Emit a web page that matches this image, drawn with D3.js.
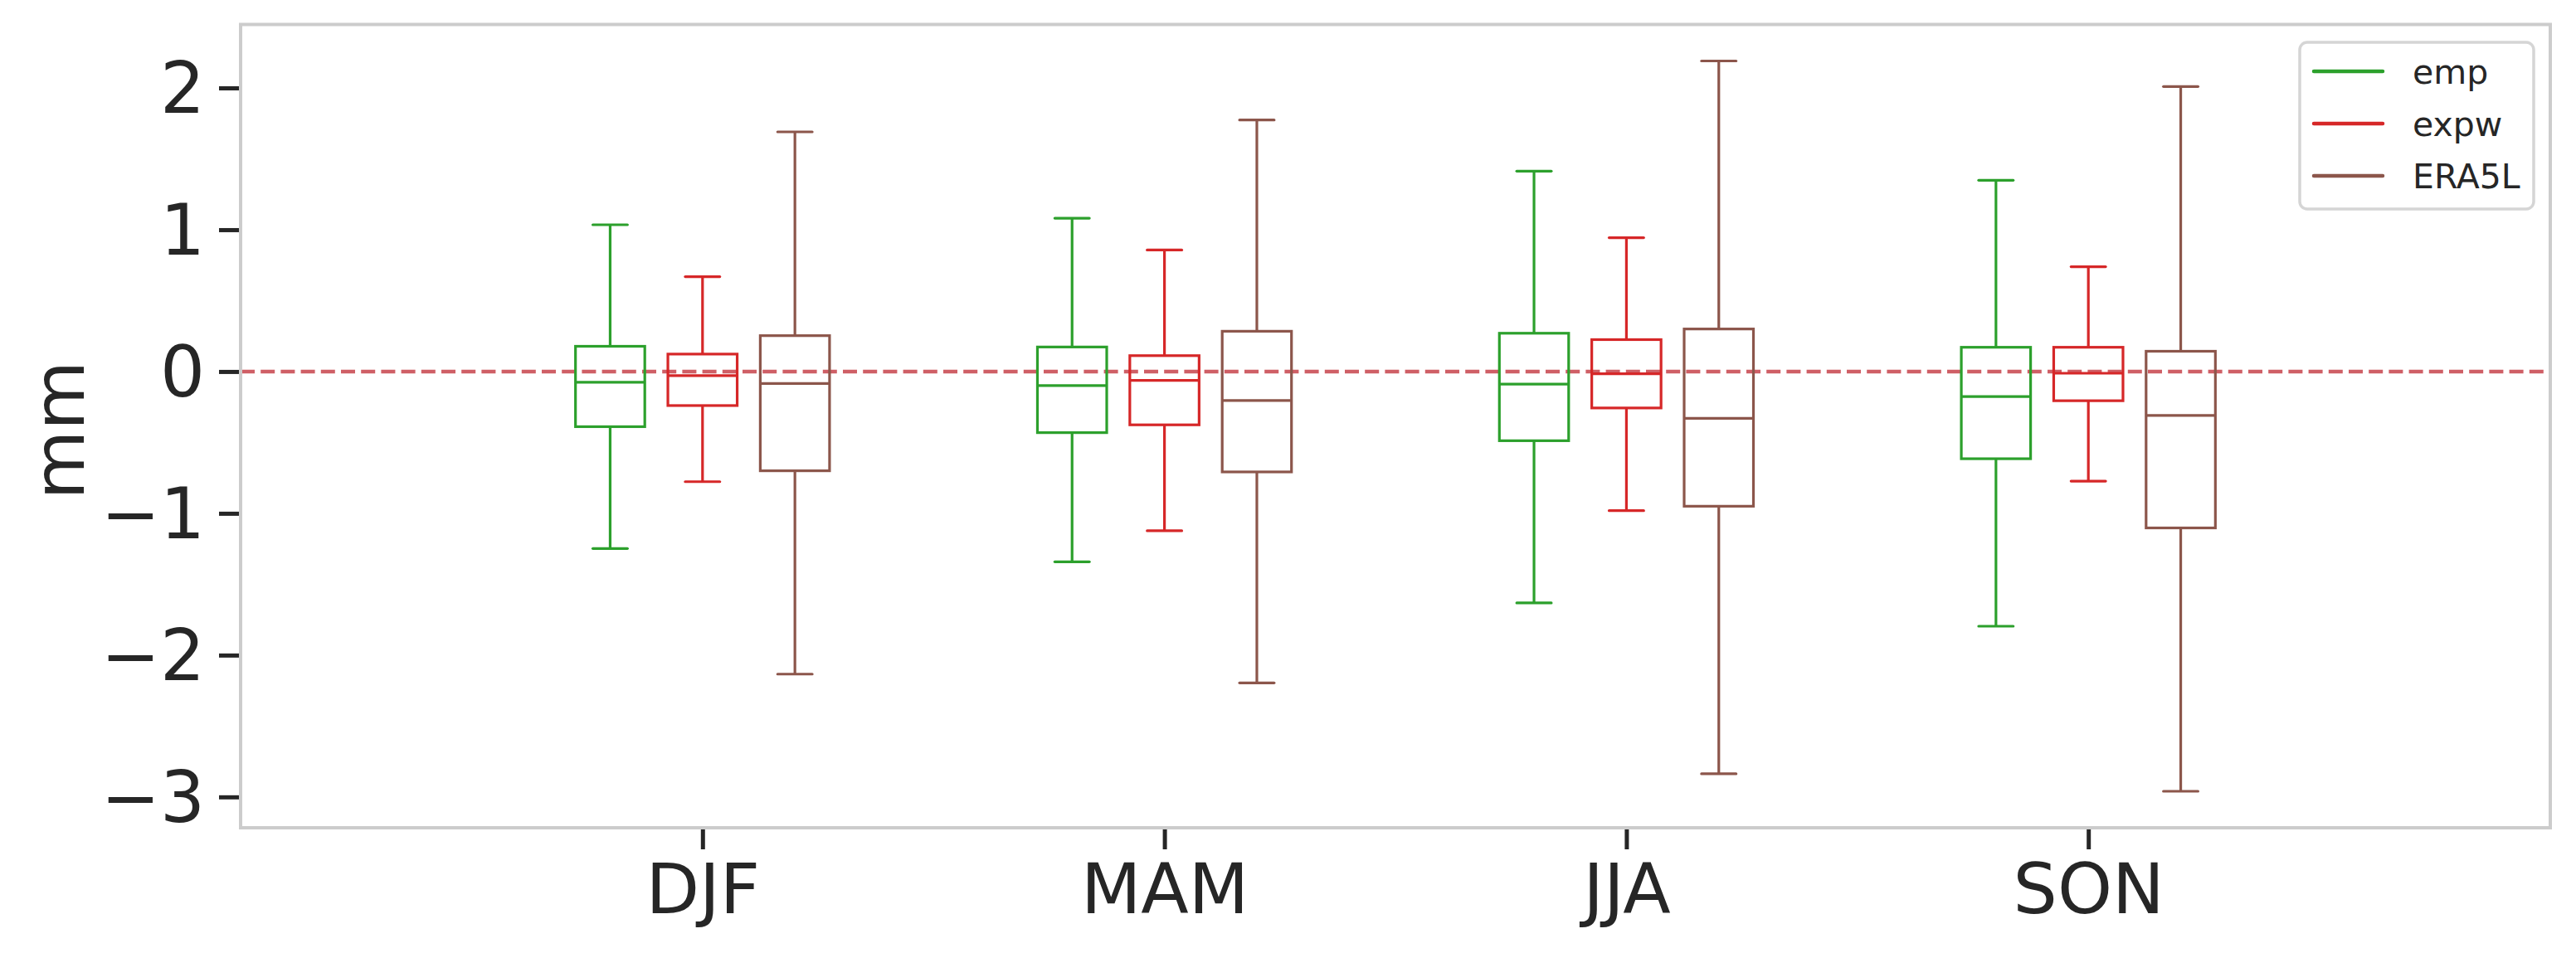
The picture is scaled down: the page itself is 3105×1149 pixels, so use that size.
<!DOCTYPE html>
<html>
<head>
<meta charset="utf-8">
<script src="https://cdn.jsdelivr.net/npm/d3@7"></script>
<style>
  html, body { margin: 0; padding: 0; background: #fff; }
  svg { display: block; }
  text { font-family: "DejaVu Sans", sans-serif; fill: #262626; }
</style>
</head>
<body>
<svg id="chart" width="3105" height="1149"></svg>
<script>
// ---- data ----
const seasons = ["DJF", "MAM", "JJA", "SON"];
const seriesNames = ["emp", "expw", "ERA5L"];
const seriesColors = ["#2ca02c", "#d62728", "#8c564b"];
const seriesOffsets = [-0.2, 0, 0.2];
// each entry: [whiskerLow, q1, median, q3, whiskerHigh] per season
const emp = [
  [-1.248, -0.389, -0.076, 0.178, 1.035],
  [-1.342, -0.431, -0.099, 0.173, 1.081],
  [-1.632, -0.488, -0.089, 0.270, 1.413],
  [-1.796, -0.615, -0.177, 0.171, 1.349]
];
const expw = [
  [-0.777, -0.240, -0.029, 0.123, 0.669],
  [-1.123, -0.376, -0.063, 0.112, 0.857],
  [-0.981, -0.257, -0.016, 0.225, 0.944],
  [-0.773, -0.206, -0.012, 0.171, 0.739]
];
const era5l = [
  [-2.134, -0.700, -0.085, 0.253, 1.690],
  [-2.196, -0.708, -0.204, 0.284, 1.774],
  [-2.837, -0.950, -0.330, 0.300, 2.190],
  [-2.960, -1.103, -0.310, 0.143, 2.010]
];
const yTicks = [-3, -2, -1, 0, 1, 2];
const yLabel = "mm";

// ---- layout ----
const svg = d3.select("#chart");
const pLeft = 290, pRight = 3074, pTop = 29.5, pBottom = 998;
const allSeries = [emp, expw, era5l];
const allVals = allSeries.flat(2);
const vmin = d3.min(allVals), vmax = d3.max(allVals);
const vpad = (vmax - vmin) * 0.05;

const x = d3.scaleLinear().domain([-1, 4]).range([pLeft, pRight]);
const y = d3.scaleLinear().domain([vmin - vpad, vmax + vpad]).range([pBottom, pTop]);

const boxW = 0.15, capW = 0.075;
const lw = 3.2;

// zero line
svg.append("line")
  .attr("x1", pLeft).attr("x2", pRight)
  .attr("y1", y(0)).attr("y2", y(0))
  .attr("stroke", "#cf5f66").attr("stroke-width", 4.5)
  .attr("stroke-dasharray", "17,7.2");

// boxes
const g = svg.append("g");
allSeries.forEach((ser, si) => {
  const col = seriesColors[si];
  ser.forEach((d, ci) => {
    const cx = ci + seriesOffsets[si];
    const [lo, q1, med, q3, hi] = d;
    const bg = g.append("g").attr("stroke", col).attr("stroke-width", lw).attr("fill", "none")
      .attr("stroke-linecap", "butt");
    bg.append("line").attr("x1", x(cx)).attr("x2", x(cx)).attr("y1", y(q1)).attr("y2", y(lo));
    bg.append("line").attr("x1", x(cx)).attr("x2", x(cx)).attr("y1", y(q3)).attr("y2", y(hi));
    bg.append("line").attr("x1", x(cx - capW / 2)).attr("x2", x(cx + capW / 2)).attr("y1", y(lo)).attr("y2", y(lo)).attr("stroke-linecap", "round");
    bg.append("line").attr("x1", x(cx - capW / 2)).attr("x2", x(cx + capW / 2)).attr("y1", y(hi)).attr("y2", y(hi)).attr("stroke-linecap", "round");
    bg.append("rect")
      .attr("x", x(cx - boxW / 2)).attr("width", x(cx + boxW / 2) - x(cx - boxW / 2))
      .attr("y", y(q3)).attr("height", y(q1) - y(q3));
    bg.append("line").attr("x1", x(cx - boxW / 2)).attr("x2", x(cx + boxW / 2)).attr("y1", y(med)).attr("y2", y(med));
  });
});

// frame (spines)
svg.append("rect")
  .attr("x", pLeft).attr("y", pTop).attr("width", pRight - pLeft).attr("height", pBottom - pTop)
  .attr("fill", "none").attr("stroke", "#cccccc").attr("stroke-width", 4);

// y axis
const yAxis = d3.axisLeft(y).tickValues(yTicks)
  .tickFormat(d => d < 0 ? "\u2212" + Math.abs(d) : String(d))
  .tickSize(24).tickPadding(17);
const ya = svg.append("g").attr("transform", `translate(${pLeft - 2},0)`).call(yAxis);
ya.select(".domain").remove();
ya.selectAll(".tick line").attr("stroke", "#262626").attr("stroke-width", 5);
ya.selectAll(".tick text").attr("font-size", 85).attr("fill", "#262626")
  .attr("font-family", "DejaVu Sans, sans-serif").attr("dy", "0.35em");

// x axis
const xAxis = d3.axisBottom(x).tickValues(d3.range(seasons.length))
  .tickFormat(i => seasons[i]).tickSize(24).tickPadding(17);
const xa = svg.append("g").attr("transform", `translate(0,${pBottom + 2})`).call(xAxis);
xa.select(".domain").remove();
xa.selectAll(".tick line").attr("stroke", "#262626").attr("stroke-width", 5);
xa.selectAll(".tick text").attr("font-size", 84).attr("fill", "#262626")
  .attr("font-family", "DejaVu Sans, sans-serif").attr("dy", "0.71em");

// y label
svg.append("text")
  .attr("transform", `translate(101,${(pTop + pBottom) / 2 + 5}) rotate(-90)`)
  .attr("text-anchor", "middle")
  .attr("font-size", 86)
  .text(yLabel);

// legend
const lg = svg.append("g");
lg.append("rect")
  .attr("x", 2772).attr("y", 51).attr("width", 282).attr("height", 201)
  .attr("rx", 9).attr("fill", "#fff").attr("stroke", "#d5d5d5").attr("stroke-width", 3.5);
seriesNames.forEach((name, i) => {
  const ly = 86 + i * 63;
  lg.append("line").attr("x1", 2789).attr("x2", 2872).attr("y1", ly).attr("y2", ly)
    .attr("stroke", seriesColors[i]).attr("stroke-width", 4.5).attr("stroke-linecap", "round");
  lg.append("text").attr("x", 2908).attr("y", ly + 15).attr("font-size", 41).text(name);
});
</script>
</body>
</html>
